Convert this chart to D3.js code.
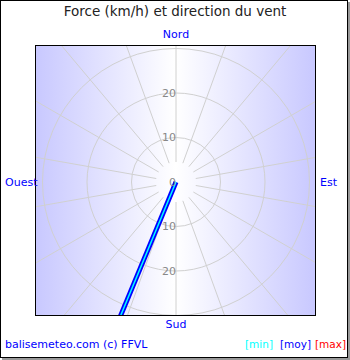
<!DOCTYPE html>
<html>
<head>
<meta charset="utf-8">
<title>Force et direction du vent</title>
<script src="https://cdn.jsdelivr.net/npm/d3@7"></script>
<style>
html, body { margin:0; padding:0; background:#fff; }
svg { display:block; font-family:"DejaVu Sans", sans-serif; }
</style>
</head>
<body>
<svg id="chart" width="350" height="360"></svg>
<script>
// donnees
var directions = [202.5];      // degres, 0 = Nord
var vitMin = [35];             // km/h
var vitMoy = [35];
var rings = [10, 20, 30];
var ringLabels = ["0", "10", "20"];
var cardinaux = ["Nord", "Est", "Sud", "Ouest"];
var legende = ["[min]", "[moy]", "[max]"];

var svg = d3.select("#chart");
var W = 350, H = 360;

// cadre exterieur + ombre
svg.append("rect").attr("x", 2).attr("y", 2).attr("width", W - 2).attr("height", H - 2).attr("fill", "#999");
svg.append("rect").attr("x", 0.5).attr("y", 0.5).attr("width", W - 3).attr("height", H - 3)
	.attr("fill", "#fff").attr("stroke", "#000");

var plot = {x: 35, y: 45, w: 281, h: 271};
var cx = 176, cy = 182;
var r = d3.scaleLinear().domain([0, 10]).range([0, 44.5]);

var defs = svg.append("defs");
var grad = defs.append("linearGradient").attr("id", "fond").attr("x1", "0").attr("x2", "1").attr("y1", "0").attr("y2", "0");
grad.append("stop").attr("offset", "0").attr("stop-color", "#c8c8ff");
grad.append("stop").attr("offset", "0.5").attr("stop-color", "#ffffff");
grad.append("stop").attr("offset", "1").attr("stop-color", "#c8c8ff");
defs.append("clipPath").attr("id", "clip").append("rect")
	.attr("x", plot.x).attr("y", plot.y).attr("width", plot.w).attr("height", plot.h);

svg.append("rect").attr("x", plot.x).attr("y", plot.y).attr("width", plot.w).attr("height", plot.h)
	.attr("fill", "url(#fond)");

var g = svg.append("g").attr("clip-path", "url(#clip)");

// rayons tous les 20 degres
var angles = d3.range(0, 360, 20);
g.selectAll("line.spoke").data(angles).enter().append("line")
	.attr("class", "spoke")
	.attr("x1", function(a){ return cx + r(4.5) * Math.sin(a * Math.PI / 180); })
	.attr("y1", function(a){ return cy - r(4.5) * Math.cos(a * Math.PI / 180); })
	.attr("x2", function(a){ return cx + r(50) * Math.sin(a * Math.PI / 180); })
	.attr("y2", function(a){ return cy - r(50) * Math.cos(a * Math.PI / 180); })
	.attr("stroke", "#d0d0d0").attr("stroke-width", 1);

g.selectAll("circle.ring").data(rings).enter().append("circle")
	.attr("class", "ring")
	.attr("cx", cx).attr("cy", cy)
	.attr("r", function(d){ return r(d); })
	.attr("fill", "none").attr("stroke", "#d0d0d0").attr("stroke-width", 1);

// etiquettes des cercles (haut et bas)
ringLabels.forEach(function(t, i){
	var v = +t;
	[-1, 1].forEach(function(s){
		if (v === 0 && s === 1) return;
		svg.append("text").attr("x", cx).attr("y", cy + s * r(v))
			.attr("dy", "0.36em").attr("text-anchor", "end")
			.attr("font-size", 11).attr("fill", "#888").text(t);
	});
});

// vent : moy (bleu) puis min (cyan)
function seg(speed, dir){
	var a = dir * Math.PI / 180;
	return [[cx, cy], [cx + r(speed) * Math.sin(a), cy - r(speed) * Math.cos(a)]];
}
var line = d3.line();
directions.forEach(function(d, i){
	g.append("path").attr("d", line(seg(vitMoy[i], d))).attr("stroke", "#0000ff").attr("stroke-width", 5).attr("fill", "none");
	g.append("path").attr("d", line(seg(vitMin[i], d))).attr("stroke", "#00ffff").attr("stroke-width", 1.5).attr("fill", "none");
});

svg.append("rect").attr("x", plot.x + 0.5).attr("y", plot.y + 0.5).attr("width", plot.w - 1).attr("height", plot.h - 1)
	.attr("fill", "none").attr("stroke", "#000");

// textes
svg.append("text").attr("x", 175).attr("y", 16).attr("text-anchor", "middle")
	.attr("font-size", 13.5).attr("fill", "#222").text("Force (km/h) et direction du vent");

var pos = [[cx, 38, "middle"], [320, cy + 4, "start"], [cx, 328, "middle"], [5, cy + 4, "start"]];
cardinaux.forEach(function(t, i){
	svg.append("text").attr("x", pos[i][0]).attr("y", pos[i][1]).attr("text-anchor", pos[i][2])
		.attr("font-size", 11).attr("fill", "#0000ff").text(t);
});

svg.append("text").attr("x", 5).attr("y", 348).attr("font-size", 11).attr("fill", "#0000ff")
	.text("balisemeteo.com (c) FFVL");
var legCol = ["#00ffff", "#0000ff", "#ff0000"];
var legX = [245, 280, 315];
legende.forEach(function(t, i){
	svg.append("text").attr("x", legX[i]).attr("y", 348).attr("font-size", 10.5).attr("fill", legCol[i]).text(t);
});
</script>
</body>
</html>
